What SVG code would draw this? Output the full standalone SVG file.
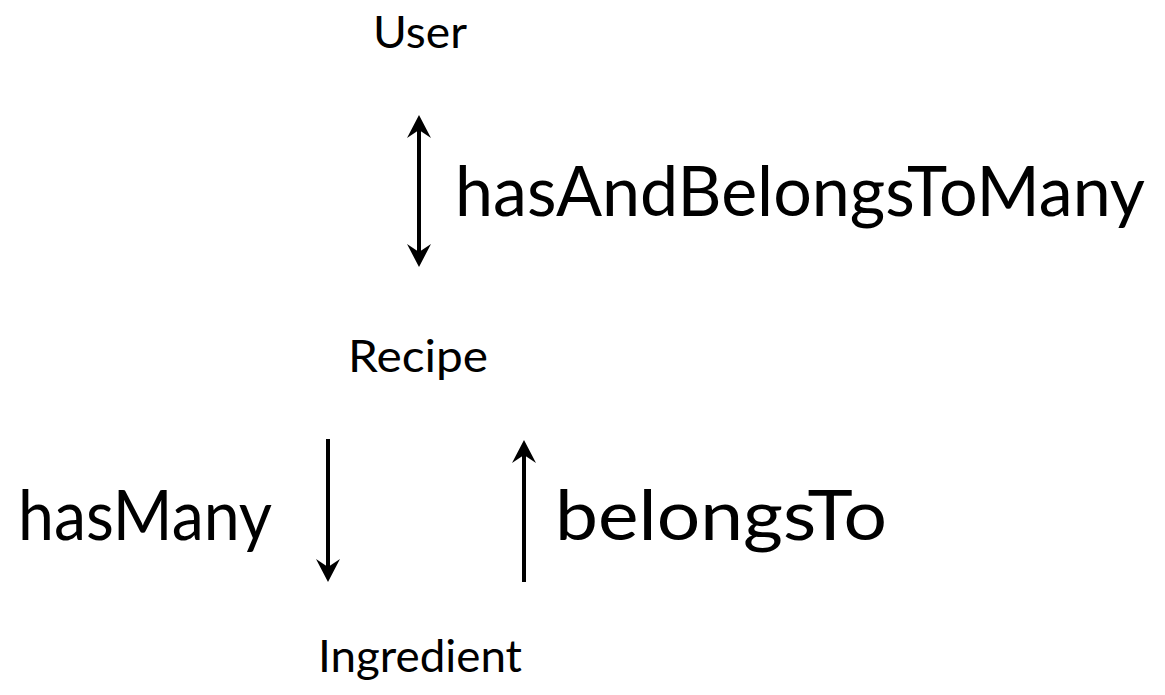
<svg xmlns="http://www.w3.org/2000/svg" width="1165" height="695" viewBox="0 0 1165 695">
<style>
.t{font-family:Lato,"Open Sans","Liberation Sans",sans-serif;fill:#000;text-anchor:middle}
.s{font-size:45px}
.b{font-size:70px}
.c{stroke:#000;stroke-width:4;fill:none}
</style>
<defs>
<marker id="ah" markerUnits="userSpaceOnUse" viewBox="-10 -15 40 30" markerWidth="40" markerHeight="30" refX="0" refY="0" orient="auto-start-reverse">
<path d="M15,0 L-8,-12 L0,0 L-8,12 Z" fill="#000"/>
</marker>
</defs>
<rect width="1165" height="695" fill="#fff"/>
<g id="user"><text class="t s" x="420" y="48" textLength="94" lengthAdjust="spacingAndGlyphs">User</text></g>
<g id="recipe"><text class="t s" x="418" y="372" textLength="140" lengthAdjust="spacingAndGlyphs">Recipe</text></g>
<g id="ingredient"><text class="t s" x="420" y="672" textLength="204" lengthAdjust="spacingAndGlyphs">Ingredient</text></g>
<g id="connectors">
<line class="c" x1="419" y1="130" x2="419" y2="252" marker-start="url(#ah)" marker-end="url(#ah)"/>
<line class="c" x1="328" y1="439" x2="328" y2="567" marker-end="url(#ah)"/>
<line class="c" x1="524" y1="582" x2="524" y2="455" marker-end="url(#ah)"/>
</g>
<g id="labels">
<text class="t b" x="800" y="216" textLength="690" lengthAdjust="spacingAndGlyphs">hasAndBelongsToMany</text>
<text class="t b" x="145" y="540" textLength="254" lengthAdjust="spacingAndGlyphs">hasMany</text>
<text class="t b" x="721" y="540" textLength="332" lengthAdjust="spacingAndGlyphs">belongsTo</text>
</g>
</svg>
